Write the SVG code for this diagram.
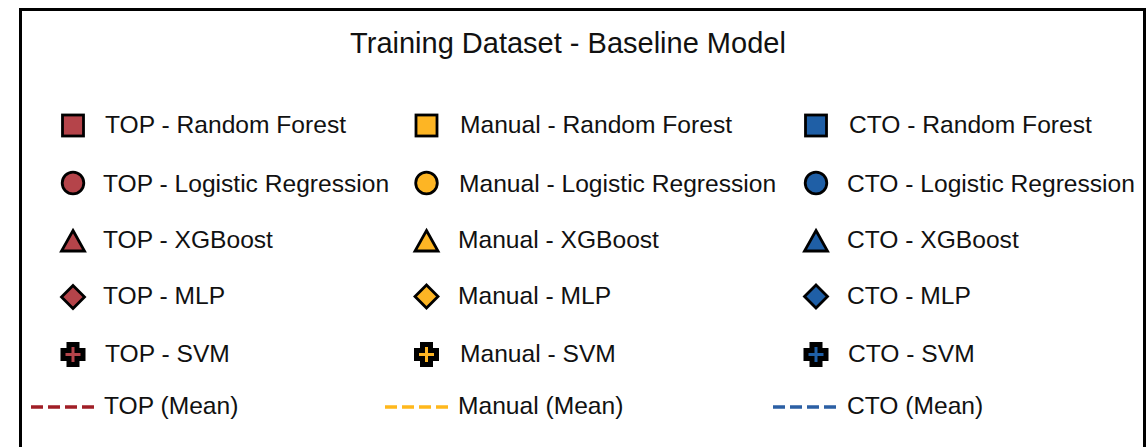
<svg xmlns="http://www.w3.org/2000/svg" width="1148" height="447" viewBox="0 0 1148 447">
<defs>
<style>
text { font-family: "Liberation Sans", Arial, sans-serif; fill: #111; }
.lbl { font-size: 24.6px; }
.title { font-size: 29px; }
.mk { stroke: #000; stroke-width: 2.8; stroke-linejoin: miter; }
.cross { stroke: #000; stroke-width: 5; stroke-linejoin: miter; }
.top { fill: #B5444A; }
.man { fill: #FDB524; }
.cto { fill: #1F5FA6; }
.mean { stroke-width: 3.5; stroke-dasharray: 12 5; fill: none; }
</style>
<rect id="sq" x="-10.5" y="-10.5" width="21" height="21"/>
<circle id="ci" r="10.8"/>
<polygon id="tr" points="0,-10.5 11.5,10 -11.5,10"/>
<polygon id="di" points="0,-11.5 11.5,0 0,11.5 -11.5,0"/>
<polygon id="cr" points="-4,-10 4,-10 4,-4 10,-4 10,4 4,4 4,10 -4,10 -4,4 -10,4 -10,-4 -4,-4"/>
</defs>
<rect x="0" y="0" width="1148" height="447" fill="#ffffff"/>
<rect id="frame" x="20.5" y="9.5" width="1124" height="460" fill="#ffffff" stroke="#000" stroke-width="3"/>
<text id="title" class="title" x="568" y="53" text-anchor="middle">Training Dataset - Baseline Model</text>

<g id="top-rf"><use href="#sq" class="mk top" x="73" y="125.5"/><text class="lbl" x="105" y="133">TOP - Random Forest</text></g>
<g id="top-lr"><use href="#ci" class="mk top" x="73" y="183"/><text class="lbl" x="103" y="192">TOP - Logistic Regression</text></g>
<g id="top-xgb"><use href="#tr" class="mk top" x="73" y="241"/><text class="lbl" x="103" y="248">TOP - XGBoost</text></g>
<g id="top-mlp"><use href="#di" class="mk top" x="73" y="297"/><text class="lbl" x="103" y="304">TOP - MLP</text></g>
<g id="top-svm"><use href="#cr" class="cross top" x="73" y="354.5"/><text class="lbl" x="105" y="362">TOP - SVM</text></g>

<g id="man-rf"><use href="#sq" class="mk man" x="426.5" y="125.5"/><text class="lbl" x="460" y="133">Manual - Random Forest</text></g>
<g id="man-lr"><use href="#ci" class="mk man" x="426.5" y="183"/><text class="lbl" x="459" y="192">Manual - Logistic Regression</text></g>
<g id="man-xgb"><use href="#tr" class="mk man" x="426.5" y="241"/><text class="lbl" x="458" y="248">Manual - XGBoost</text></g>
<g id="man-mlp"><use href="#di" class="mk man" x="426.5" y="296.5"/><text class="lbl" x="458" y="304">Manual - MLP</text></g>
<g id="man-svm"><use href="#cr" class="cross man" x="426.5" y="354.5"/><text class="lbl" x="460" y="362">Manual - SVM</text></g>

<g id="cto-rf"><use href="#sq" class="mk cto" x="816" y="125.5"/><text class="lbl" x="849" y="133">CTO - Random Forest</text></g>
<g id="cto-lr"><use href="#ci" class="mk cto" x="816" y="183"/><text class="lbl" x="847" y="192">CTO - Logistic Regression</text></g>
<g id="cto-xgb"><use href="#tr" class="mk cto" x="816" y="241"/><text class="lbl" x="847" y="248">CTO - XGBoost</text></g>
<g id="cto-mlp"><use href="#di" class="mk cto" x="816" y="296.5"/><text class="lbl" x="847" y="304">CTO - MLP</text></g>
<g id="cto-svm"><use href="#cr" class="cross cto" x="816" y="354.5"/><text class="lbl" x="848" y="362">CTO - SVM</text></g>

<g id="top-mean"><line class="mean" x1="31" y1="407" x2="94" y2="407" stroke="#A01E26"/><text class="lbl" x="104" y="414">TOP (Mean)</text></g>
<g id="man-mean"><line class="mean" x1="385" y1="407" x2="448" y2="407" stroke="#FFB81C"/><text class="lbl" x="458" y="414">Manual (Mean)</text></g>
<g id="cto-mean"><line class="mean" x1="773" y1="407" x2="836" y2="407" stroke="#2B5FA4"/><text class="lbl" x="847" y="414">CTO (Mean)</text></g>
</svg>
